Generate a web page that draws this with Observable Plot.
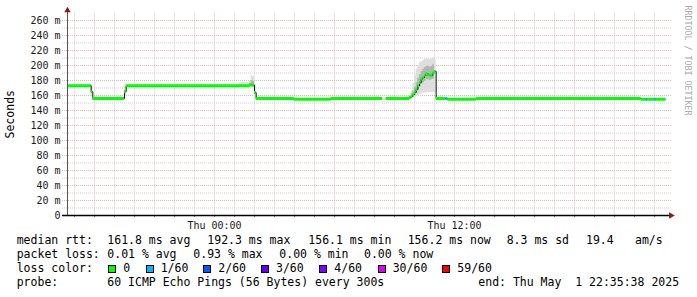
<!DOCTYPE html>
<html>
<head>
<meta charset="utf-8">
<script src="https://cdn.jsdelivr.net/npm/d3@7"></script>
<script src="https://cdn.jsdelivr.net/npm/@observablehq/plot@0.6"></script>
<style>
  html, body { margin: 0; padding: 0; background: #fff; }
  #wrap { position: relative; width: 697px; height: 297px; overflow: hidden; font-family: "DejaVu Sans Mono", monospace; background: #fff; }
  #wrap svg { display: block; }
  #legend { position: relative; width: 697px; height: 64px; font-size: 11.5px; color: #000; }
  .row { position: absolute; left: 0; width: 697px; height: 14px; line-height: 14px; }
  .it { position: absolute; top: 0; white-space: pre; }
  .box { position: absolute; top: 4px; width: 6px; height: 6px; border: 1px solid #000; }
</style>
</head>
<body>
<div id="wrap"></div>
<script>
// ---- time range of the graph (UTC clock used as the graph's wall clock)
const graphRange = ["2025-04-30T16:39", "2025-05-01T22:39"];

// ---- median RTT (ms), break points of the 300 s step series, and packet loss (pings of 60)
const times = [
  "2025-04-30T16:40", "2025-04-30T17:50", "2025-04-30T17:55", "2025-04-30T19:30", "2025-04-30T19:35",
  "2025-05-01T01:45", "2025-05-01T02:00", "2025-05-01T02:05", "2025-05-01T04:00", "2025-05-01T05:50",
  "2025-05-01T08:25", "2025-05-01T08:35",
  "2025-05-01T09:45", "2025-05-01T09:50", "2025-05-01T09:55", "2025-05-01T10:00", "2025-05-01T10:05",
  "2025-05-01T10:10", "2025-05-01T10:15", "2025-05-01T10:20", "2025-05-01T10:25", "2025-05-01T10:30",
  "2025-05-01T10:35", "2025-05-01T10:40", "2025-05-01T10:45", "2025-05-01T10:50", "2025-05-01T10:55",
  "2025-05-01T11:00", "2025-05-01T11:05",
  "2025-05-01T11:35", "2025-05-01T11:40", "2025-05-01T13:05", "2025-05-01T21:20", "2025-05-01T21:35",
  "2025-05-01T21:40", "2025-05-01T22:00", "2025-05-01T22:05", "2025-05-01T22:35"
];
const rtt = [
  173, 165, 156, 165, 173,
  174, 164, 156, 155, 156,
  null, 156,
  157, 159, 161, 164, 168,
  173, 177, 182, 184, 187,
  189, 188, 187, 187, 190,
  192, 156,
  156, 155, 156, 155, 155,
  155, 155, 155, null
];
const loss = [
  0, 0, 0, 0, 0,
  0, 0, 0, 0, 0,
  0, 0,
  0, 0, 0, 0, 0,
  0, 0, 0, 0, 0,
  0, 0, 0, 0, 0,
  0, 0,
  1, 0, 0, 0, 1,
  0, 1, 0, 0
];

// ---- smoke (spread of the individual pings, ms)
const smokeTimes = [
  "2025-04-30T17:45", "2025-04-30T17:50", "2025-04-30T17:55", "2025-04-30T18:00",
  "2025-04-30T19:30", "2025-04-30T19:35", "2025-04-30T19:40",
  "2025-05-01T01:15", "2025-05-01T01:45", "2025-05-01T01:50", "2025-05-01T01:55", "2025-05-01T02:00", "2025-05-01T02:05", "2025-05-01T02:10",
  "2025-05-01T09:45", "2025-05-01T09:50", "2025-05-01T09:55", "2025-05-01T10:00", "2025-05-01T10:05",
  "2025-05-01T10:10", "2025-05-01T10:15", "2025-05-01T10:20", "2025-05-01T10:25", "2025-05-01T10:30",
  "2025-05-01T10:35", "2025-05-01T10:40", "2025-05-01T10:45", "2025-05-01T10:50", "2025-05-01T10:55",
  "2025-05-01T11:00", "2025-05-01T11:05", "2025-05-01T11:10"
];
const smokeLo = [
  171, 158, 155, null,
  158, 171, null,
  172, 172, 171, 170, 158, 155, null,
  155, 156, 157, 158, 159,
  160, 161, 162, 163, 163,
  164, 164, 164, 164, 164,
  164, 155, null
];
const smokeHi = [
  176, 174, 160, null,
  172, 176, null,
  177, 179, 187, 185, 172, 160, null,
  160, 166, 176, 186, 195,
  200, 204, 205, 207, 208,
  209, 209, 208, 209, 210,
  208, 159, null
];
const smokeInnerLo = [
  null, null, null, null,
  null, null, null,
  null, 173, 172, 172, 161, null, null,
  156, 157, 158, 160, 163,
  167, 171, 175, 177, 179,
  181, 181, 180, 181, 182,
  182, null, null
];
const smokeInnerHi = [
  null, null, null, null,
  null, null, null,
  null, 176, 180, 179, 168, null, null,
  158, 162, 166, 171, 177,
  183, 188, 192, 195, 197,
  199, 199, 198, 199, 201,
  200, null, null
];

// ---- loss colour classes
const lossLevels = [0, 1, 2, 3, 4, 30, 59];
const lossLabels = ["0", "1/60", "2/60", "3/60", "4/60", "30/60", "59/60"];
const lossColors = ["#00ff00", "#00b8ff", "#0059ff", "#5e00ff", "#7e00ff", "#dd00ff", "#ff0000"];

// ---- axis ticks
const yTicks = [0, 20, 40, 60, 80, 100, 120, 140, 160, 180, 200, 220, 240, 260];
const yMinor = [10, 30, 50, 70, 90, 110, 130, 150, 170, 190, 210, 230, 250];
const xLabelTicks = ["2025-05-01T00:00", "2025-05-01T12:00"];

// ---- legend texts
const rttStats = ["161.8 ms avg", "192.3 ms max", "156.1 ms min", "156.2 ms now", "8.3 ms sd", "19.4", "am/s"];
const lossStats = ["0.01 % avg", "0.93 % max", "0.00 % min", "0.00 % now"];
const probeText = ["probe:", "60 ICMP Echo Pings (56 Bytes) every 300s", "end: Thu May  1 22:35:38 2025"];
const watermark = "RRDTOOL / TOBI OETIKER";
const yLabel = "Seconds";

// ---------------------------------------------------------------
const parse = d3.utcParse("%Y-%m-%dT%H:%M");
const graphStart = parse(graphRange[0]);
const graphEnd = parse(graphRange[1]);
const frameStart = d3.utcMinute.offset(graphStart, -15);
const frameEnd = d3.utcMinute.offset(graphEnd, 12);

const data = times.map((t, i) => ({
  t: parse(t),
  next: i + 1 < times.length ? parse(times[i + 1]) : null,
  rtt: rtt[i],
  color: lossColors[lossLevels.indexOf(loss[i])]
}));
const smoke = smokeTimes.map((t, i) => ({
  t: parse(t), lo: smokeLo[i], hi: smokeHi[i], ilo: smokeInnerLo[i], ihi: smokeInnerHi[i]
}));

const hours = d3.utcHour.range(d3.utcHour.ceil(graphStart), graphEnd);
const majorHours = hours.filter(d => d.getUTCHours() % 6 === 0);
const minorHours = hours.filter(d => d.getUTCHours() % 6 !== 0);
const xLabels = xLabelTicks.map(parse);

const gridGray = "#cfcfcf";
const gridRed = "#eeb2b2";
const arrowRed = "#8b1a1a";

const plot = Plot.plot({
  width: 697,
  height: 233,
  marginLeft: 62,
  marginRight: 26,
  marginTop: 12.5,
  marginBottom: 18,
  x: {type: "utc", domain: [frameStart, frameEnd]},
  y: {domain: [0, 270]},
  color: {type: "identity"},
  style: {fontFamily: "'DejaVu Sans Mono', monospace", fontSize: "10px", background: "#fff", color: "#000", overflow: "visible"},
  marks: [
    // grid
    Plot.gridY(yMinor, {stroke: gridGray, strokeOpacity: 1, strokeDasharray: "1,1"}),
    Plot.gridX(minorHours, {stroke: gridGray, strokeOpacity: 1, strokeDasharray: "1,1"}),
    Plot.gridY(yTicks.filter(d => d > 0), {stroke: gridRed, strokeOpacity: 1, strokeDasharray: "1,1"}),
    Plot.gridX(majorHours, {stroke: gridRed, strokeOpacity: 1, strokeDasharray: "1,1"}),
    // smoke
    Plot.areaY(smoke, {x: "t", y1: "lo", y2: "hi", curve: "step-after", fill: "#dedede"}),
    Plot.areaY(smoke, {x: "t", y1: "ilo", y2: "ihi", curve: "step-after", fill: "#a9a9a9", fillOpacity: 0.8}),
    // median
    Plot.line(data, {x: "t", y: "rtt", curve: "step-after", stroke: "#111", strokeWidth: 1}),
    Plot.ruleY(data, {y: "rtt", x1: "t", x2: "next", stroke: "color", strokeWidth: 3}),
    // axes
    Plot.axisY(yTicks, {tickSize: 0, tickPadding: 2, tickFormat: d => d === 0 ? "0" : `${d} m`, label: null, fontSize: 10, fill: "#1a1a1a"}),
    Plot.axisX(hours, {tickSize: 2, tickFormat: () => "", label: null, stroke: "#777"}),
    Plot.axisX(xLabels, {tickSize: 0, tickPadding: 6, tickFormat: d3.utcFormat("%a %H:%M"), label: null, fontSize: 10, fill: "#1a1a1a"}),
    Plot.ruleX([graphStart], {y1: 0, y2: 271, stroke: "#555", strokeWidth: 1}),
    Plot.ruleY([0], {stroke: "#000", strokeWidth: 1.3}),
    Plot.dot([graphStart], {x: d => d, frameAnchor: "top", dy: -2.5, symbol: "triangle", r: 2.4, fill: arrowRed, stroke: "none"}),
    Plot.dot([0], {y: d => d, frameAnchor: "right", dx: -0.5, symbol: "triangle", rotate: 90, r: 2.4, fill: arrowRed, stroke: "none"}),
    // texts
    Plot.text([yLabel], {frameAnchor: "left", dx: -52, rotate: -90, textAnchor: "middle", lineAnchor: "middle", fontSize: 11.5, fill: "#000"}),
    Plot.text([watermark], {frameAnchor: "top-right", dx: 16.5, dy: -7.5, rotate: 90, textAnchor: "start", lineAnchor: "middle", fontSize: 8.3, fill: "#aaaaaa"})
  ]
});

const wrap = document.getElementById("wrap");
wrap.appendChild(plot);

// ---- legend below the svg
const legend = document.createElement("div");
legend.id = "legend";
wrap.appendChild(legend);

const rowLayout = [0, 14, 28, 42];
const rows = rowLayout.map(top => {
  const r = document.createElement("div");
  r.className = "row";
  r.style.top = top + "px";
  legend.appendChild(r);
  return r;
});
function addText(row, text, left) {
  const s = document.createElement("span");
  s.className = "it";
  s.textContent = text;
  s.style.left = left + "px";
  row.appendChild(s);
}
const labelLeft = 16.7;
addText(rows[0], "median rtt:", labelLeft);
[107.3, 207.3, 308.3, 407.7, 506.7, 586, 635].forEach((x, i) => addText(rows[0], rttStats[i], x));
addText(rows[1], "packet loss:", labelLeft);
[107.3, 193.3, 279.3, 364].forEach((x, i) => addText(rows[1], lossStats[i], x));
addText(rows[2], "loss color:", labelLeft);
[108.3, 145.7, 203.3, 261, 319.3, 377.7, 442.3].forEach((x, i) => {
  const b = document.createElement("span");
  b.className = "box";
  b.style.left = x + "px";
  b.style.background = lossColors[i];
  rows[2].appendChild(b);
  addText(rows[2], lossLabels[i], x + 15);
});
[labelLeft, 107.3, 478.3].forEach((x, i) => addText(rows[3], probeText[i], x));
</script>
</body>
</html>
